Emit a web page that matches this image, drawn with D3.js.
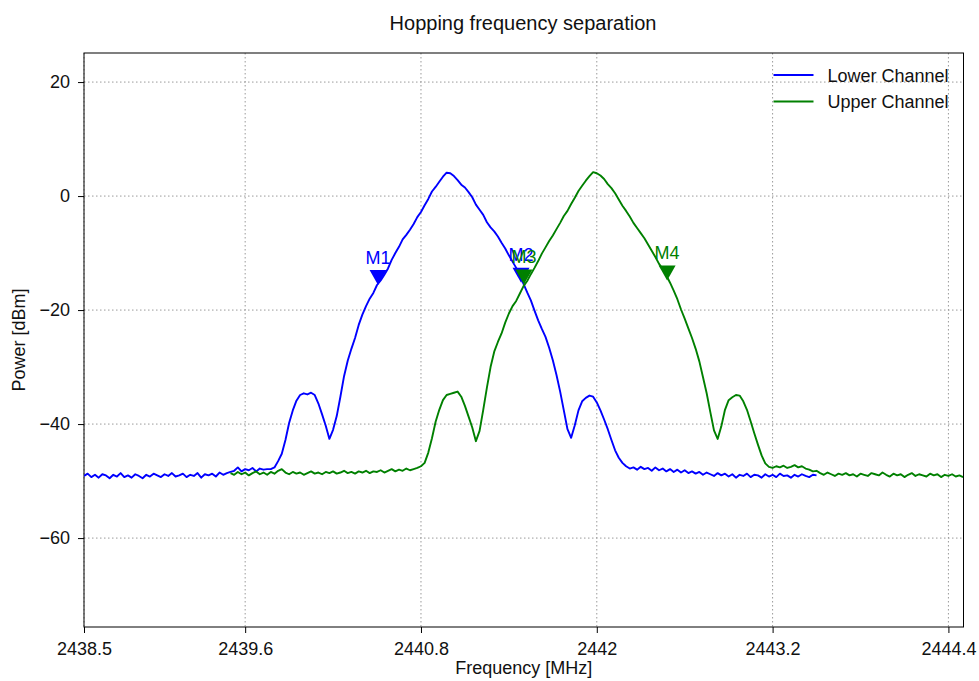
<!DOCTYPE html>
<html>
<head>
<meta charset="utf-8">
<script src="https://cdn.jsdelivr.net/npm/d3@7"></script>
<style>
    body { margin: 0; background: #fff; }
    #chart { width: 979px; height: 681px; }
    text { font-family: "Liberation Sans", Arial, sans-serif; fill: #111; }
</style>
</head>
<body>
<div id="chart"></div>
<script>
// sweep settings (MHz)
const lowerStart = 2438.5;
const upperStart = 2439.5;
const sweepStep = 0.025;

// measured power, dBm, one value per sweep point
const lowerPower = [
    -49.1, -48.7, -49.3, -48.9, -49.4, -48.8, -49.0, -49.5, -48.9, -49.2,
    -48.6, -49.3, -49.0, -49.4, -48.8, -49.1, -49.5, -48.9, -49.2, -48.7,
    -49.0, -49.3, -48.8, -49.1, -48.6, -49.2, -49.0, -48.7, -49.3, -48.9,
    -49.1, -48.6, -49.4, -48.8, -49.0, -48.7, -49.2, -48.5, -48.9, -48.6,
    -48.4, -48.2, -47.6, -48.3, -47.9, -48.1, -47.7, -48.3, -47.8, -48.0,
    -47.9, -47.9, -47.6, -46.5, -45.2, -42.8, -39.8, -37.6, -35.9, -34.9,
    -34.6, -34.8, -34.5, -34.9, -36.4, -38.3, -40.3, -42.6, -41.0, -38.6,
    -35.2, -31.6, -28.9, -26.8, -24.9, -22.6, -20.8, -19.3, -18.0, -17.0,
    -15.6, -14.8, -13.8, -12.7, -11.2, -10.0, -8.9, -7.6, -6.8, -5.9,
    -4.9, -3.7, -2.8, -1.6, -0.5, 0.8, 1.6, 2.5, 3.4, 4.1,
    4.0, 3.5, 2.8, 2.0, 1.5, 0.7, -0.2, -1.5, -2.4, -3.3,
    -4.6, -5.5, -6.2, -7.1, -8.2, -9.2, -10.4, -11.5, -12.6, -14.0,
    -15.4, -16.9, -18.3, -20.1, -21.8, -23.3, -24.7, -26.6, -28.8, -31.4,
    -34.3, -37.6, -40.9, -42.4, -40.2, -37.6, -36.0, -35.4, -35.0, -35.2,
    -36.2, -37.6, -39.2, -40.9, -42.8, -44.6, -45.9, -46.8, -47.4, -47.8,
    -47.6, -48.0, -47.5, -47.9, -47.7, -48.2, -47.6, -48.1, -47.8, -48.3,
    -47.9, -48.4, -48.0, -48.5, -48.1, -48.6, -48.3, -48.7, -48.4, -48.9,
    -48.5, -48.8, -49.1, -48.6, -49.0, -48.7, -49.2, -48.8, -49.4, -48.9,
    -49.1, -48.7, -49.3, -48.9, -49.0, -49.4, -48.8, -49.2, -48.9, -49.3,
    -48.7, -49.1, -49.0, -49.4, -48.9, -49.2, -48.8, -49.1, -49.3, -48.9,
    -49.0
];

const upperPower = [
    -48.6, -48.9, -48.4, -48.8, -48.5, -49.0, -48.6, -48.3, -48.8, -48.5,
    -48.9, -48.4, -48.7, -48.2, -47.9, -48.5, -48.8, -48.4, -48.7, -48.5,
    -48.9, -48.6, -48.3, -48.7, -48.5, -48.8, -48.4, -48.6, -48.3, -48.7,
    -48.5, -48.2, -48.6, -48.4, -48.7, -48.3, -48.5, -48.2, -48.6, -48.3,
    -48.4, -48.1, -48.5, -48.2, -47.9, -48.3, -48.0, -48.2, -47.8, -48.1,
    -47.9, -47.7, -47.4, -46.8, -45.0, -42.5, -39.6, -37.5, -35.8, -34.9,
    -34.7, -34.5, -34.3, -35.2, -36.8, -38.7, -40.6, -43.0, -41.2, -37.5,
    -33.6, -30.0, -27.3, -25.6, -24.1, -22.2, -20.6, -19.3, -18.4, -17.1,
    -15.8, -14.9, -13.7, -12.6, -11.4, -10.1, -9.0, -7.9, -6.9, -5.8,
    -4.7, -3.5, -2.6, -1.4, -0.3, 0.9, 1.8, 2.7, 3.5, 4.2,
    4.0, 3.6, 3.0, 2.1, 1.4, 0.5, -0.6, -1.7, -2.6, -3.6,
    -4.7, -5.6, -6.5, -7.4, -8.5, -9.6, -10.7, -11.9, -12.8, -13.9,
    -15.2, -16.6, -18.1, -19.9, -21.5, -23.2, -24.9, -26.8, -29.0, -31.8,
    -34.6, -37.9, -41.1, -42.6, -40.4, -37.5, -35.8, -35.3, -34.9, -35.0,
    -36.0, -37.5, -39.5, -41.6, -43.6, -45.5, -46.9, -47.5, -47.7, -47.4,
    -47.6, -47.3, -47.7, -47.5, -47.2, -47.6, -47.4, -47.8, -48.0, -48.3,
    -48.2, -48.6, -48.9, -48.5, -48.8, -49.1, -48.7, -48.9, -48.6, -49.0,
    -48.8, -49.2, -48.7, -48.9, -49.1, -48.6, -48.8, -49.0, -48.5, -48.9,
    -49.2, -48.7, -49.0, -48.8, -49.3, -48.9, -48.6, -49.1, -48.8, -49.0,
    -49.2, -48.7, -49.0, -48.8, -49.3, -48.9, -49.1, -48.8, -49.2, -49.0,
    -49.3
];

// markers
const markerNames = ["M1", "M2", "M3", "M4"];
const markerFreq = [2440.507, 2441.483, 2441.503, 2442.48];
const markerPower = [-14.3, -13.9, -14.2, -13.5];
const markerSeries = [0, 0, 1, 1];

const seriesNames = ["Lower Channel", "Upper Channel"];
const xTicks = [2438.5, 2439.6, 2440.8, 2442, 2443.2, 2444.4];
const yTicks = [20, 0, -20, -40, -60];

class SpectrumChart {
    constructor(parentElement) {
        this.parentElement = parentElement;
        this.colors = ["#0000ff", "#008000"];

        // build (freq, power) rows from the sweep grid
        this.series = [
            lowerPower.map((p, i) => ({f: lowerStart + i * sweepStep, p: p})),
            upperPower.map((p, i) => ({f: upperStart + i * sweepStep, p: p}))
        ];

        this.initVis();
    }

    initVis() {
        let vis = this;

        vis.margin = {top: 53, right: 15.5, bottom: 54, left: 84};
        vis.width = 979 - vis.margin.left - vis.margin.right;
        vis.height = 681 - vis.margin.top - vis.margin.bottom;

        vis.root = d3.select("#" + vis.parentElement)
            .append("svg")
            .attr("width", 979)
            .attr("height", 681);

        vis.svg = vis.root.append("g")
            .attr("transform", `translate(${vis.margin.left}, ${vis.margin.top})`);

        vis.x = d3.scaleLinear().domain([2438.5, 2444.503]).range([0, vis.width]);
        vis.y = d3.scaleLinear().domain([-75.6, 25.1]).range([vis.height, 0]);

        vis.svg.append("clipPath").attr("id", "plotclip")
            .append("rect").attr("width", vis.width).attr("height", vis.height);

        // grid
        vis.svg.append("g").selectAll("line").data(xTicks).enter().append("line")
            .attr("x1", d => vis.x(d)).attr("x2", d => vis.x(d))
            .attr("y1", 0).attr("y2", vis.height)
            .attr("stroke", "#9a9a9a").attr("stroke-width", 1)
            .attr("stroke-dasharray", "1.5,2.5");
        vis.svg.append("g").selectAll("line").data(yTicks).enter().append("line")
            .attr("y1", d => vis.y(d)).attr("y2", d => vis.y(d))
            .attr("x1", 0).attr("x2", vis.width)
            .attr("stroke", "#9a9a9a").attr("stroke-width", 1)
            .attr("stroke-dasharray", "1.5,2.5");

        // axes
        vis.xAxis = d3.axisBottom(vis.x).tickValues(xTicks).tickFormat(d => String(d))
            .tickSizeOuter(0).tickSize(6).tickPadding(5);
        vis.yAxis = d3.axisLeft(vis.y).tickValues(yTicks).tickFormat(d3.format("d"))
            .tickSizeOuter(0).tickSize(6).tickPadding(8);

        let gx = vis.svg.append("g").attr("transform", `translate(0, ${vis.height})`).call(vis.xAxis);
        let gy = vis.svg.append("g").call(vis.yAxis);
        [gx, gy].forEach(g => {
            g.select(".domain").remove();
            g.selectAll(".tick line").attr("stroke", "#000").attr("stroke-width", 1);
            g.selectAll(".tick text").attr("font-size", 18).attr("fill", "#111")
                .attr("font-family", "Liberation Sans, Arial, sans-serif");
        });
        gx.selectAll(".tick text").attr("dy", "0.95em");

        // frame
        vis.svg.append("rect")
            .attr("width", vis.width).attr("height", vis.height)
            .attr("fill", "none").attr("stroke", "#000").attr("stroke-width", 1);

        // labels
        vis.root.append("text").attr("x", 523).attr("y", 30)
            .attr("text-anchor", "middle").attr("font-size", 20)
            .text("Hopping frequency separation");
        vis.root.append("text")
            .attr("x", vis.margin.left + vis.width / 2).attr("y", 674)
            .attr("text-anchor", "middle").attr("font-size", 18)
            .text("Frequency [MHz]");
        vis.root.append("text")
            .attr("transform", `translate(25, ${vis.margin.top + vis.height / 2}) rotate(-90)`)
            .attr("text-anchor", "middle").attr("font-size", 18)
            .text("Power [dBm]");

        vis.plot = vis.svg.append("g").attr("clip-path", "url(#plotclip)");

        this.updateVis();
    }

    updateVis() {
        let vis = this;

        let line = d3.line().x(d => vis.x(d.f)).y(d => vis.y(d.p));

        vis.series.forEach((s, k) => {
            vis.plot.append("path")
                .datum(s)
                .attr("d", line)
                .attr("fill", "none")
                .attr("stroke", vis.colors[k])
                .attr("stroke-width", 1.9)
                .attr("stroke-linejoin", "round");

            // markers of this series drawn over its trace
            let idx = markerNames.map((m, i) => i).filter(i => markerSeries[i] === k);
            let mg = vis.plot.selectAll(".marker-" + k).data(idx).enter()
                .append("g")
                .attr("class", "marker-" + k)
                .attr("transform", i => `translate(${vis.x(markerFreq[i])}, ${vis.y(markerPower[i])})`);
            mg.append("path")
                .attr("d", "M-8.5,-7.5L8.5,-7.5L0,7.5Z")
                .attr("fill", vis.colors[k]);
            mg.append("text")
                .attr("y", -14)
                .attr("text-anchor", "middle")
                .attr("font-size", 18)
                .style("fill", vis.colors[k])
                .text(i => markerNames[i]);
        });

        // legend
        let lg = vis.svg.append("g").selectAll("g").data(seriesNames).enter().append("g")
            .attr("transform", (d, i) => `translate(${vis.width - 190}, ${22 + i * 26.5})`);
        lg.append("line")
            .attr("x1", 0).attr("x2", 40)
            .attr("stroke", (d, i) => vis.colors[i]).attr("stroke-width", 2);
        lg.append("text")
            .attr("x", 54).attr("y", 6.5)
            .attr("font-size", 18)
            .text(d => d);
    }
}

new SpectrumChart("chart");
</script>
</body>
</html>
